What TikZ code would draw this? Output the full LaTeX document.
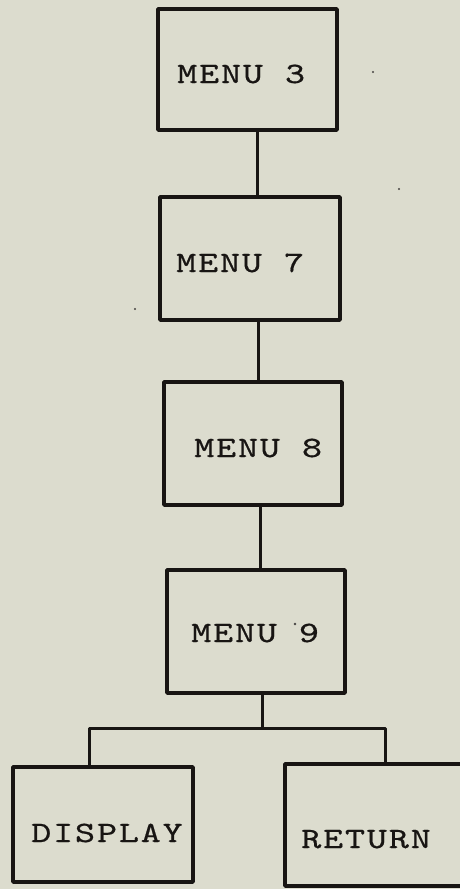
\documentclass[tikz,border=0pt]{standalone}
\usepackage{fontspec}
\newfontfamily\tw{lmmono10-regular.otf}[FakeStretch=1.3,LetterSpace=6,FakeBold=0.6]
\definecolor{paper}{RGB}{220,220,206}
\definecolor{ink}{RGB}{24,21,19}
\tikzset{
  box/.style={draw=ink, line width=3.6pt, inner sep=0pt, line join=round},
  conn/.style={draw=ink, line width=3pt, line cap=butt},
  lbl/.style={anchor=base west, inner sep=0pt, text=ink, font=\tw\fontsize{29.5}{32}\selectfont},
  speck/.style={fill=ink!80, draw=none, circle, inner sep=0pt, minimum size=2.2pt}
}
\begin{document}
\begin{tikzpicture}[x=1pt,y=-1pt]
\useasboundingbox (0,0) rectangle (460,889);
\fill[paper] (0,0) rectangle (460,889);
\clip (0,0) rectangle (460,889);
% boxes
\node[box, minimum width=179pt, minimum height=121pt] (m3) at (247.5,69.5) {};
\node[box, minimum width=180pt, minimum height=123pt] (m7) at (250,258.5) {};
\node[box, minimum width=178pt, minimum height=123pt] (m8) at (253,443.5) {};
\node[box, minimum width=178pt, minimum height=123pt] (m9) at (256,631.5) {};
\node[box, minimum width=180pt, minimum height=115pt] (disp) at (103,824.5) {};
\node[box, minimum width=190pt, minimum height=122pt] (ret) at (380,825) {};
% labels
\node[lbl] (t3) at (177,83) {MENU 3};
\node[lbl] (t7) at (176,272) {MENU 7};
\node[lbl] (t8) at (194,457) {MENU 8};
\node[lbl] (t9) at (191,642) {MENU 9};
\node[lbl] (td) at (31,842) {DISPLAY};
\node[lbl] (tr) at (301,848) {RETURN};
% connector columns
\coordinate (j1) at (257,0);
\coordinate (j2) at (258,0);
\coordinate (j3) at (260,0);
\coordinate (br) at (262,728);
\coordinate (bl) at (89,728);
\coordinate (brr) at (385,728);
\draw[conn] (m3.south -| j1) -- (m7.north -| j1);
\draw[conn] (m7.south -| j2) -- (m8.north -| j2);
\draw[conn] (m8.south -| j3) -- (m9.north -| j3);
\draw[conn] (m9.south -| br) -- (br);
\draw[conn, line join=round] (disp.north -| bl) -- (bl) -- (brr) -- (ret.north -| brr);
% scan specks
\node[speck] (s1) at (373,72) {};
\node[speck] (s2) at (399,189) {};
\node[speck] (s3) at (135,309) {};
\node[speck, minimum size=2.6pt] (s4) at (295,624) {};
\end{tikzpicture}
\end{document}
